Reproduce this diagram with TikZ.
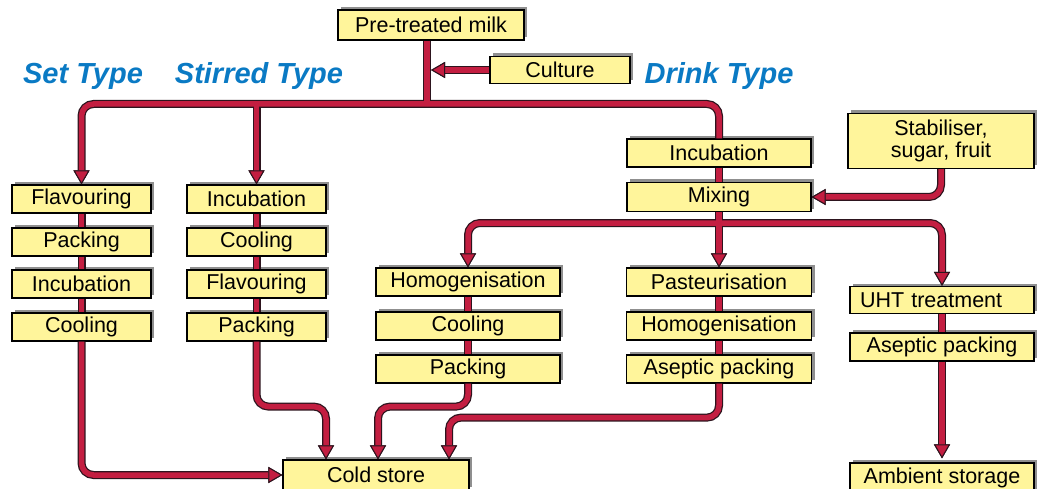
\documentclass[tikz,border=0pt]{standalone}
\usepackage{fontspec}
\setmainfont{Liberation Sans}
\usetikzlibrary{arrows.meta,shadows,calc}
\definecolor{boxfill}{RGB}{255,245,155}
\definecolor{pipered}{RGB}{195,30,65}
\definecolor{pipedark}{RGB}{45,20,30}
\definecolor{titleblue}{RGB}{10,122,196}
\tikzset{
  box/.style={draw=black, line width=1.2pt, fill=boxfill, minimum height=28pt, inner sep=0pt,
    font=\fontsize{21.5}{24}\selectfont,
    drop shadow={shadow xshift=3pt, shadow yshift=3pt, fill=black!55, opacity=.8}},
  title/.style={text=titleblue, font=\fontsize{29}{31}\selectfont\bfseries\itshape, inner sep=0pt},
  pipeA/.style={line width=8pt, draw=pipedark, rounded corners=12pt},
  pipeB/.style={line width=5.5pt, draw=pipered, rounded corners=12pt},
  arr/.style={-{Triangle[length=14pt,width=16pt,line width=1pt,color=pipedark,fill=pipered]}}
}
\newcommand\allpipes[1]{%
  \draw[#1] (J |- milk.south) -- (J);
  \draw[#1,arr] (J) -| (sFlav.north);
  \draw[#1] (J) -| (dInc.north);
  \draw[#1,arr] (stInc.north |- J) -- (stInc.north);
  \draw[#1,arr,shorten >=4pt] (cult.west) -- (cult.west -| J);
  \draw[#1] (sFlav.south) -- (sPack.north);
  \draw[#1] (sPack.south) -- (sInc.north);
  \draw[#1] (sInc.south) -- (sCool.north);
  \draw[#1] (stInc.south) -- (stCool.north);
  \draw[#1] (stCool.south) -- (stFlav.north);
  \draw[#1] (stFlav.south) -- (stPack.north);
  \draw[#1] (dInc.south) -- (mix.north);
  \draw[#1] (mix.south) -- (K);
  \draw[#1,arr] (K) -- (past.north);
  \draw[#1,arr] (K) -| (dHomo.north);
  \draw[#1,arr] (K) -| (uht.north);
  \draw[#1,arr] (stab.south) |- (mix.east);
  \draw[#1] (dHomo.south) -- (dCool.north);
  \draw[#1] (dCool.south) -- (dPack.north);
  \draw[#1] (past.south) -- (aHomo.north);
  \draw[#1] (aHomo.south) -- (aPack.north);
  \draw[#1] (uht.south) -- (uAsep.north);
  \draw[#1,arr,shorten >=4pt] (uAsep.south) -- (amb.north);
  \draw[#1,arr] (sCool.south) |- (cold.west);
  \draw[#1,arr] (stPack.south) -- ++(0,-65) -| ([xshift=-50pt]cold.north);
  \draw[#1,arr] (dPack.south) -- ++(0,-23) -| ([xshift=2pt]cold.north);
  \draw[#1,arr] (aPack.south) -- ++(0,-34) -| ([xshift=73pt]cold.north);
}
\begin{document}
\begin{tikzpicture}[x=1pt,y=1pt]
\fill[white] (0,0) rectangle (1038,-489);
\useasboundingbox (0,0) rectangle (1038,-489);
% titles
\node[title] (tSet) at (83,-76) {Set Type};
\node[title] (tStir) at (259,-76) {Stirred Type};
\node[title] (tDrink) at (719,-76) {Drink Type};
% top
\node[box, minimum width=186pt, minimum height=30pt] (milk) at (431,-25) {Pre-treated milk};
\node[box, minimum width=140pt, minimum height=27pt] (cult) at (560,-70) {Culture};
% set column
\node[box, minimum width=139pt] (sFlav) at (81.5,-199) {Flavouring};
\node[box, minimum width=139pt] (sPack) at (81.5,-242) {Packing};
\node[box, minimum width=139pt] (sInc) at (81.5,-284) {Incubation};
\node[box, minimum width=139pt] (sCool) at (81.5,-327) {Cooling};
% stirred column
\node[box, minimum width=139pt] (stInc) at (256.5,-199) {Incubation};
\node[box, minimum width=139pt] (stCool) at (256.5,-242) {Cooling};
\node[box, minimum width=139pt] (stFlav) at (256.5,-284) {Flavouring};
\node[box, minimum width=139pt] (stPack) at (256.5,-327) {Packing};
% drink
\node[box, minimum width=184pt] (dInc) at (719,-153) {Incubation};
\node[box, minimum width=184pt, minimum height=29pt] (mix) at (719,-197) {Mixing};
\node[box, minimum width=186pt, minimum height=55pt, align=center,
  font=\fontsize{21.5}{22}\selectfont] (stab) at (941,-141) {Stabiliser,\\sugar, fruit};
\node[box, minimum width=184pt] (dHomo) at (468,-282) {Homogenisation};
\node[box, minimum width=184pt] (dCool) at (468,-326) {Cooling};
\node[box, minimum width=184pt] (dPack) at (468,-369) {Packing};
\node[box, minimum width=185pt] (past) at (719,-282) {Pasteurisation};
\node[box, minimum width=185pt] (aHomo) at (719,-326) {Homogenisation};
\node[box, minimum width=185pt] (aPack) at (719,-369) {Aseptic packing};
\node[box, text width=164pt, inner xsep=10pt, align=left, minimum height=27pt] (uht) at (942,-300) {UHT treatment};
\node[box, minimum width=184pt] (uAsep) at (942,-347) {Aseptic packing};
\node[box, minimum width=184pt, minimum height=30pt] (amb) at (942,-478) {Ambient storage};
\node[box, minimum width=186pt, minimum height=30pt] (cold) at (376,-475) {Cold store};
% junctions
\coordinate (J) at (427,-104);
\coordinate (K) at (719,-223);
\allpipes{pipeA}
\allpipes{pipeB}
\end{tikzpicture}
\end{document}
